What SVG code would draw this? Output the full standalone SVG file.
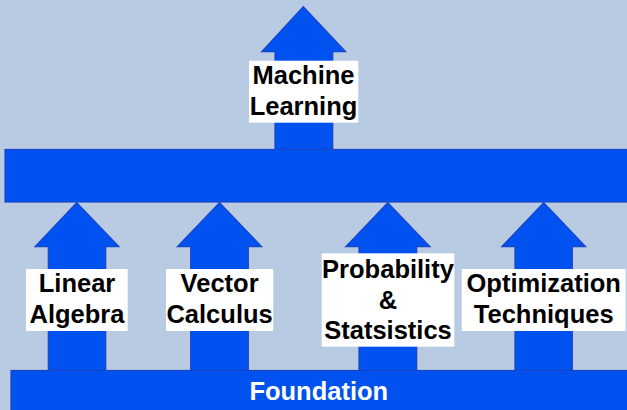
<svg xmlns="http://www.w3.org/2000/svg" width="627" height="410" viewBox="0 0 627 410">
<style>
.blk{fill:#0052f0;stroke:#1a45c4;stroke-width:1.2}
.lbl{fill:#ffffff}
.t{font-family:"Liberation Sans",Arial,sans-serif;font-weight:bold;font-size:25.5px;fill:#000000;text-anchor:middle}
.tw{font-family:"Liberation Sans",Arial,sans-serif;font-weight:bold;font-size:25.5px;fill:#ffffff;text-anchor:middle}
</style>
<rect x="0" y="0" width="627" height="410" fill="#b8cbe2"/>
<g id="connectors">
<path id="arrow-ml" class="blk" d="M275,149.5 V51.7 H261.7 L303.3,6.7 L345.7,51.7 H332.7 V149.5 Z"/>
<path id="arrow-la" class="blk" d="M48.3,370.5 V246.7 H35 L76.7,202.5 L119,246.7 H105.7 V370.5 Z"/>
<path id="arrow-vc" class="blk" d="M190.7,370.5 V246.7 H177.3 L219.5,202.5 L261.7,246.7 H248.3 V370.5 Z"/>
<path id="arrow-ps" class="blk" d="M359,370.5 V246.7 H345.7 L387.8,202.5 L430,246.7 H416.7 V370.5 Z"/>
<path id="arrow-ot" class="blk" d="M515,370.5 V246.7 H501.7 L543.7,202.5 L585.7,246.7 H572.3 V370.5 Z"/>
</g>
<g id="middle-bar">
<rect class="blk" x="5" y="149.5" width="625" height="52.5"/>
</g>
<g id="foundation">
<rect class="blk" x="11" y="370.5" width="620" height="42"/>
<text class="tw" x="318.8" y="400">Foundation</text>
</g>
<g id="machine-learning">
<rect class="lbl" x="249" y="60.7" width="109.3" height="62"/>
<text class="t" x="303.5" y="84">Machine</text>
<text class="t" x="303.5" y="115">Learning</text>
</g>
<g id="linear-algebra">
<rect class="lbl" x="26" y="269" width="101.7" height="62"/>
<text class="t" x="77" y="292.3">Linear</text>
<text class="t" x="77" y="323.3">Algebra</text>
</g>
<g id="vector-calculus">
<rect class="lbl" x="166" y="269" width="107.3" height="62"/>
<text class="t" x="219.6" y="292.3">Vector</text>
<text class="t" x="219.6" y="323.3">Calculus</text>
</g>
<g id="probability-statistics">
<rect class="lbl" x="321.7" y="253.3" width="132.6" height="93.4"/>
<text class="t" x="388" y="278.3">Probability</text>
<text class="t" x="388" y="308.6">&amp;</text>
<text class="t" x="388" y="339">Statsistics</text>
</g>
<g id="optimization-techniques">
<rect class="lbl" x="461.7" y="269" width="164" height="62"/>
<text class="t" x="543.7" y="292.3">Optimization</text>
<text class="t" x="543.7" y="323.3">Techniques</text>
</g>
</svg>
